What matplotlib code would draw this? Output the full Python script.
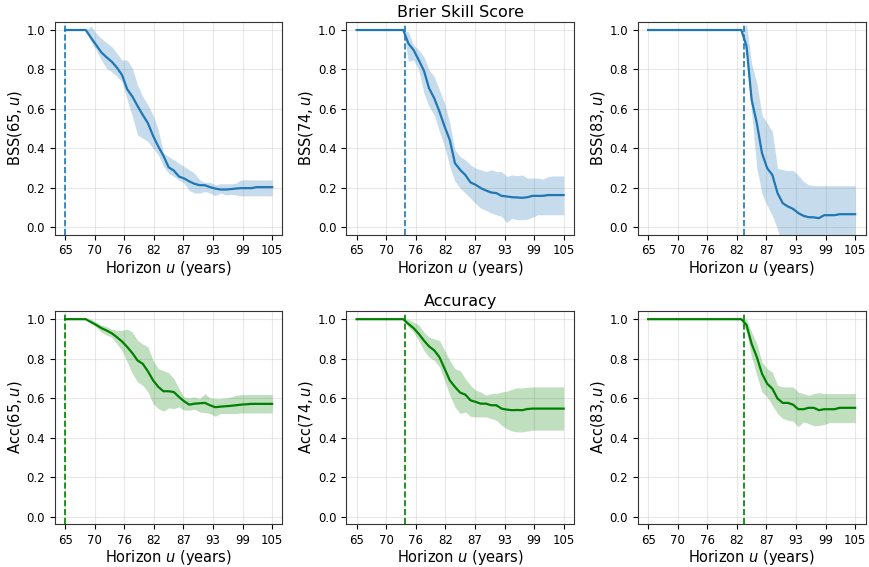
import numpy as np
import matplotlib
matplotlib.use("Agg")
import matplotlib.pyplot as plt

# horizon grid (years)
horizon = list(range(65, 106))
start_ages = [65, 74, 83]
cut_lines = [65, 74.3, 83.5]
tick_pos = np.linspace(65, 105, 8)
tick_labels = [str(int(t)) for t in tick_pos]

# Brier skill score, s = 65
bss65 = [1.0, 1.0, 1.0, 1.0, 1.0, 0.961, 0.924, 0.887, 0.862, 0.84, 0.81, 0.772, 0.70, 0.663,
         0.615, 0.57, 0.528, 0.464, 0.41, 0.363, 0.305, 0.288, 0.258, 0.248, 0.233, 0.221,
         0.214, 0.214, 0.204, 0.197, 0.192, 0.192, 0.194, 0.197, 0.199, 0.199, 0.199, 0.204,
         0.204, 0.204, 0.204]
bss65_hi = [1.0, 1.0, 1.0, 1.0, 1.0, 1.02, 0.983, 0.958, 0.936, 0.916, 0.882, 0.848, 0.848,
            0.806, 0.722, 0.663, 0.62, 0.57, 0.494, 0.376, 0.359, 0.342, 0.325, 0.309, 0.292,
            0.275, 0.241, 0.228, 0.228, 0.216, 0.221, 0.221, 0.221, 0.224, 0.241, 0.241, 0.241,
            0.241, 0.241, 0.241, 0.241]
bss65_lo = [1.0, 1.0, 1.0, 1.0, 1.0, 0.94, 0.899, 0.848, 0.806, 0.789, 0.764, 0.739, 0.646,
            0.562, 0.469, 0.452, 0.435, 0.401, 0.368, 0.309, 0.275, 0.258, 0.241, 0.224, 0.187,
            0.174, 0.174, 0.182, 0.174, 0.16, 0.174, 0.165, 0.168, 0.165, 0.16, 0.16, 0.16,
            0.16, 0.16, 0.16, 0.16]

# Brier skill score, s = 74
bss74 = [1.0] * 10 + [0.932, 0.899, 0.848, 0.794, 0.705, 0.654, 0.587, 0.511, 0.443, 0.325,
                      0.292, 0.266, 0.228, 0.216, 0.199, 0.187, 0.177, 0.174, 0.16, 0.157,
                      0.153, 0.152, 0.15, 0.153, 0.16, 0.16, 0.16, 0.164, 0.164, 0.164, 0.164]
bss74_hi = [1.0] * 10 + [0.99, 0.924, 0.899, 0.865, 0.798, 0.764, 0.696, 0.629, 0.528, 0.393,
                         0.359, 0.342, 0.317, 0.30, 0.292, 0.283, 0.292, 0.283, 0.283, 0.258,
                         0.266, 0.262, 0.266, 0.25, 0.25, 0.25, 0.245, 0.258, 0.261, 0.261, 0.261]
bss74_lo = [1.0] * 10 + [0.84, 0.848, 0.798, 0.68, 0.612, 0.57, 0.486, 0.41, 0.309, 0.233,
                         0.199, 0.174, 0.148, 0.12, 0.098, 0.086, 0.073, 0.064, 0.056, 0.025,
                         0.047, 0.039, 0.039, 0.042, 0.052, 0.064, 0.064, 0.064, 0.064, 0.064, 0.064]

# Brier skill score, s = 83
bss83 = [1.0] * 19 + [0.92, 0.646, 0.528, 0.376, 0.30, 0.266, 0.174, 0.123, 0.106, 0.094,
                      0.073, 0.059, 0.052, 0.051, 0.047, 0.062, 0.062, 0.062, 0.067, 0.067,
                      0.067, 0.067]
bss83_hi = [1.0] * 19 + [1.03, 0.83, 0.73, 0.57, 0.528, 0.486, 0.30, 0.292, 0.288, 0.288,
                         0.266, 0.233, 0.216, 0.211, 0.211, 0.211, 0.211, 0.211, 0.211, 0.211,
                         0.211, 0.211]
bss83_lo = [1.0] * 19 + [0.87, 0.578, 0.30, 0.17, 0.11, 0.06, -0.01, -0.1, -0.1, -0.12,
                         -0.15, -0.15, -0.15, -0.15, -0.15, -0.15, -0.15, -0.15, -0.15, -0.15,
                         -0.15, -0.15]

# Accuracy, s = 65
acc65 = [1.0, 1.0, 1.0, 1.0, 1.0, 0.985, 0.971, 0.955, 0.943, 0.929, 0.909, 0.887, 0.859,
         0.828, 0.791, 0.774, 0.736, 0.69, 0.657, 0.635, 0.635, 0.631, 0.606, 0.584, 0.567,
         0.572, 0.574, 0.576, 0.564, 0.554, 0.557, 0.559, 0.561, 0.564, 0.567, 0.569, 0.571,
         0.571, 0.571, 0.571, 0.571]
acc65_hi = [1.0, 1.0, 1.0, 1.0, 1.0, 1.0, 0.985, 0.97, 0.963, 0.95, 0.943, 0.943, 0.95,
            0.934, 0.892, 0.875, 0.859, 0.791, 0.749, 0.74, 0.729, 0.699, 0.648, 0.606, 0.601,
            0.606, 0.598, 0.623, 0.601, 0.598, 0.598, 0.601, 0.606, 0.614, 0.618, 0.618, 0.618,
            0.618, 0.618, 0.618, 0.618]
acc65_lo = [1.0, 1.0, 1.0, 1.0, 1.0, 0.985, 0.96, 0.934, 0.92, 0.909, 0.875, 0.842, 0.783,
            0.724, 0.682, 0.665, 0.631, 0.572, 0.547, 0.534, 0.551, 0.547, 0.556, 0.539, 0.539,
            0.544, 0.53, 0.527, 0.522, 0.508, 0.522, 0.522, 0.522, 0.522, 0.525, 0.525, 0.525,
            0.525, 0.525, 0.525, 0.525]

# Accuracy, s = 74
acc74 = [1.0] * 10 + [0.976, 0.955, 0.926, 0.892, 0.862, 0.842, 0.808, 0.749, 0.69, 0.657,
                      0.628, 0.618, 0.589, 0.581, 0.572, 0.572, 0.564, 0.564, 0.547, 0.542,
                      0.539, 0.54, 0.539, 0.545, 0.547, 0.547, 0.547, 0.547, 0.547, 0.547, 0.547]
acc74_hi = [1.0] * 10 + [1.0, 0.985, 0.971, 0.934, 0.909, 0.90, 0.892, 0.842, 0.791, 0.749,
                         0.74, 0.699, 0.665, 0.64, 0.631, 0.615, 0.623, 0.623, 0.631, 0.635,
                         0.645, 0.652, 0.652, 0.655, 0.657, 0.657, 0.657, 0.657, 0.657, 0.657, 0.657]
acc74_lo = [1.0] * 10 + [0.96, 0.934, 0.892, 0.842, 0.808, 0.791, 0.758, 0.69, 0.615, 0.556,
                         0.522, 0.53, 0.508, 0.505, 0.505, 0.505, 0.497, 0.488, 0.463, 0.446,
                         0.433, 0.429, 0.429, 0.433, 0.438, 0.438, 0.438, 0.438, 0.438, 0.438, 0.438]

# Accuracy, s = 83
acc83 = [1.0] * 19 + [0.971, 0.875, 0.808, 0.724, 0.673, 0.648, 0.598, 0.576, 0.576, 0.567,
                      0.544, 0.544, 0.551, 0.551, 0.539, 0.544, 0.544, 0.544, 0.551, 0.551,
                      0.551, 0.551]
acc83_hi = [1.0] * 19 + [1.0, 0.934, 0.875, 0.783, 0.749, 0.732, 0.665, 0.657, 0.657, 0.657,
                         0.631, 0.623, 0.614, 0.623, 0.628, 0.623, 0.623, 0.623, 0.623, 0.623,
                         0.623, 0.623]
acc83_lo = [1.0] * 19 + [0.934, 0.808, 0.715, 0.631, 0.606, 0.564, 0.522, 0.497, 0.488, 0.483,
                         0.455, 0.48, 0.471, 0.46, 0.462, 0.466, 0.476, 0.476, 0.476, 0.476,
                         0.476, 0.476]

bss_rows = [(bss65, bss65_lo, bss65_hi), (bss74, bss74_lo, bss74_hi), (bss83, bss83_lo, bss83_hi)]
acc_rows = [(acc65, acc65_lo, acc65_hi), (acc74, acc74_lo, acc74_hi), (acc83, acc83_lo, acc83_hi)]

fig, axes = plt.subplots(2, 3, figsize=(8.69, 5.67), dpi=100)
fig.subplots_adjust(left=0.063, right=0.996, top=0.961, bottom=0.076, wspace=0.28, hspace=0.36)

for row, (rows, name, color) in enumerate([(bss_rows, "BSS", "#1f77b4"), (acc_rows, "Acc", "green")]):
    for col, (mean, lo, hi) in enumerate(rows):
        ax = axes[row, col]
        s = start_ages[col]
        ax.fill_between(horizon, lo, hi, color=color, alpha=0.25, linewidth=0)
        ax.plot(horizon, mean, color=color, lw=1.6)
        ax.axvline(cut_lines[col], color=color, ls="--", lw=1.2)
        ax.set_ylim(-0.037, 1.04)
        ax.set_xlim(63, 107)
        ax.set_xticks(tick_pos)
        ax.set_xticklabels(tick_labels)
        ax.set_yticks([0.0, 0.2, 0.4, 0.6, 0.8, 1.0])
        ax.tick_params(labelsize=8.5, length=3.5)
        ax.grid(True, color="#cccccc", alpha=0.45, lw=0.8)
        ax.set_axisbelow(True)
        ax.set_xlabel(r"Horizon $u$ (years)", fontsize=10.5, labelpad=1)
        ax.set_ylabel(name + r"$(%d, u)$" % s, fontsize=10.5, labelpad=2)
        for sp in ax.spines.values():
            sp.set_color("#333333")

axes[0, 1].set_title("Brier Skill Score", fontsize=11.5, pad=4)
axes[1, 1].set_title("Accuracy", fontsize=11.5, pad=4)

plt.savefig("out.png", dpi=100)
